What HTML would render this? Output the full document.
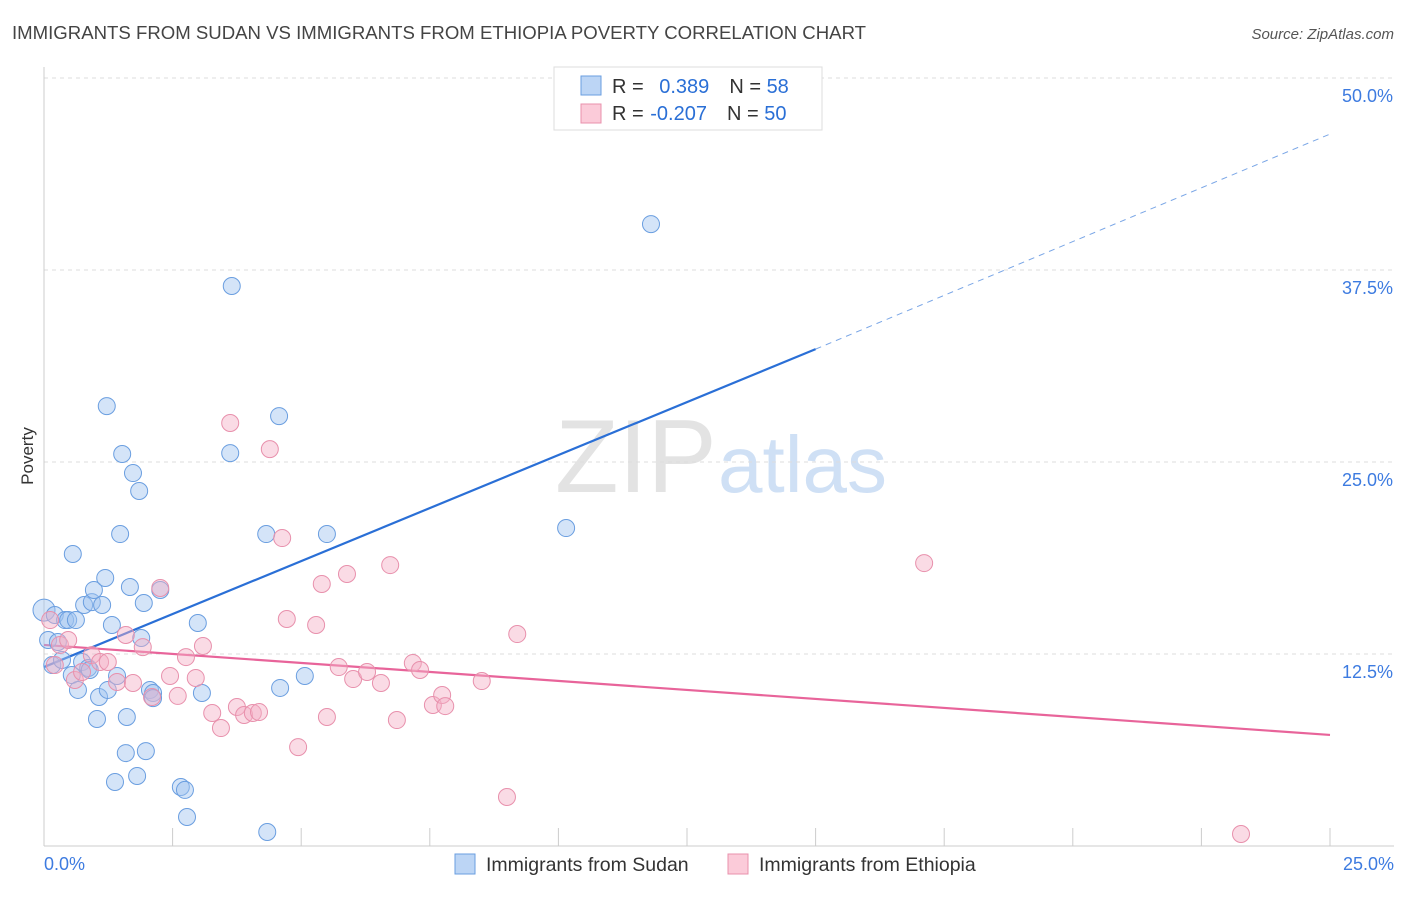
<!DOCTYPE html>
<html><head><meta charset="utf-8"><style>
body{margin:0;background:#fff;font-family:"Liberation Sans",sans-serif;}
svg text{font-family:"Liberation Sans",sans-serif;}
</style></head><body>
<svg id="chart" width="1406" height="892" viewBox="0 0 1406 892" xmlns="http://www.w3.org/2000/svg">
<text x="12" y="39" font-size="18.6" fill="#444">IMMIGRANTS FROM SUDAN VS IMMIGRANTS FROM ETHIOPIA POVERTY CORRELATION CHART</text>
<text x="1394" y="39" font-size="15" fill="#555" text-anchor="end" font-style="italic">Source: ZipAtlas.com</text>
<g>
<text x="555" y="492" font-size="104" fill="#e3e3e3" font-family="Liberation Serif">ZIP</text>
<text x="718" y="492" font-size="80" fill="#cfe0f5">atlas</text>
</g>
<g id="grid"></g>
<g id="axes"></g>
<text transform="translate(33,456) rotate(-90)" font-size="17" fill="#333" text-anchor="middle">Poverty</text>
<g id="lines"></g>
<g id="points"></g>
<g>
<rect x="554" y="67" width="268" height="63" fill="#fff" stroke="#ddd"/>
<rect x="581" y="76" width="20" height="19" fill="#bcd5f5" stroke="#6a9ee0"/>
<rect x="581" y="104" width="20" height="19" fill="#fbcbd9" stroke="#e890ac"/>
<text x="612" y="93" font-size="20" fill="#333">R = <tspan fill="#2a6fd6" dx="10">0.389</tspan><tspan fill="#333" dx="20">N = </tspan><tspan fill="#2a6fd6">58</tspan></text>
<text x="612" y="120" font-size="20" fill="#333">R = <tspan fill="#2a6fd6" dx="1">-0.207</tspan><tspan fill="#333" dx="20">N = </tspan><tspan fill="#2a6fd6">50</tspan></text>
</g>
<g>
<rect x="455" y="854" width="20" height="20" fill="#bcd5f5" stroke="#6a9ee0"/>
<text x="486" y="871" font-size="19.5" fill="#333">Immigrants from Sudan</text>
<rect x="728" y="854" width="20" height="20" fill="#fbcbd9" stroke="#e890ac"/>
<text x="759" y="871" font-size="19.5" fill="#333">Immigrants from Ethiopia</text>
</g>
</svg>
<script>
const yTicks=[12.5,25,37.5,50];
const yTickLabels=["12.5%","25.0%","37.5%","50.0%"];
const xTicks=[0,2.5,5,7.5,10,12.5,15,17.5,20,22.5,25];
const xTickLabels=["0.0%","25.0%"];
const sudanX=[0,.08,.16,.21,.27,.35,.41,.47,.54,.56,.62,.66,.74,.78,.86,.89,.93,.97,1.03,1.07,1.13,1.19,1.22,1.24,1.32,1.38,1.42,1.48,1.52,1.59,1.61,1.67,1.73,1.81,1.85,1.89,1.94,1.98,2.06,2.12,2.12,2.26,2.66,2.74,2.78,2.99,3.07,3.62,3.65,4.32,4.34,4.57,4.59,5.07,5.5,10.15,11.8];
const sudanY=[15.36,13.41,11.78,15.04,13.28,12.11,14.71,14.71,11.13,19.01,14.71,10.16,11.98,15.69,11.59,11.46,15.88,16.67,8.27,9.7,15.69,17.45,28.64,10.16,14.39,4.17,11.07,20.31,25.52,6.05,8.4,16.86,24.28,4.56,23.11,13.54,15.82,6.18,10.16,9.96,9.63,16.67,3.84,3.65,1.89,14.52,9.96,25.58,36.46,20.31,.91,27.99,10.29,11.07,20.31,20.7,40.49];
const ethX=[.12,.21,.31,.47,.6,.74,.93,1.09,1.24,1.42,1.59,1.73,1.92,2.1,2.26,2.45,2.6,2.76,2.95,3.09,3.27,3.44,3.62,3.75,3.89,4.06,4.18,4.39,4.63,4.72,4.94,5.29,5.4,5.5,5.89,5.73,6.01,6.28,6.55,6.73,6.86,7.17,7.31,7.56,7.74,7.8,8.51,9,9.2,17.11,23.27];
const ethY=[14.71,11.78,13.09,13.41,10.81,11.33,12.43,11.98,11.98,10.68,13.74,10.61,12.95,9.7,16.8,11.07,9.77,12.3,10.94,13.02,8.66,7.68,27.54,9.05,8.53,8.66,8.72,25.84,20.05,14.78,6.44,14.39,17.06,8.4,17.71,11.65,10.87,11.33,10.61,18.29,8.2,11.91,11.46,9.18,9.83,9.11,10.74,3.19,13.8,18.42,.78];
const sudanTrend=[11.65,32.35,46.35]; // at x=0, x=15, x=25
const ethTrend=[13.09,7.23]; // at x=0, x=25
const NS="http://www.w3.org/2000/svg";
const X=v=>44+v/25*1286, Y=v=>846-v/12.5*192;
function mk(tag,attrs,parent){const e=document.createElementNS(NS,tag);for(const k in attrs)e.setAttribute(k,attrs[k]);document.getElementById(parent).appendChild(e);return e;}
yTicks.forEach((t,i)=>{
 const g=mk('line',{x1:44,x2:1394,y1:Y(t),y2:Y(t),stroke:'#ddd','stroke-dasharray':'4,4'},'grid');
 
 
 const l=mk('text',{x:1393,y:Y(t)+24,'font-size':18,fill:'#3d7be0','text-anchor':'end'},'grid');
 
 
 l.textContent=yTickLabels[i];
});
const ax=mk('line',{x1:44,x2:1394,y1:846,y2:846,stroke:'#ccc'},'axes');


const ay=mk('line',{x1:44,x2:44,y1:67,y2:846,stroke:'#ccc'},'axes');


xTicks.forEach(t=>{
 const k=mk('line',{x1:X(t),x2:X(t),y1:828,y2:846,stroke:'#ccc'},'axes');
 
 
});
const xl0=mk('text',{x:44,y:870,'font-size':18,fill:'#3d7be0'},'axes');


xl0.textContent=xTickLabels[0];
const xl1=mk('text',{x:1394,y:870,'font-size':18,fill:'#3d7be0','text-anchor':'end'},'axes');


xl1.textContent=xTickLabels[1];
sudanX.forEach((v,i)=>{
 const c=mk('circle',{cx:X(v),cy:Y(sudanY[i]),r:i===0?11:8.5,fill:'rgba(160,196,240,0.45)',stroke:'#6a9ee0','stroke-width':1},'points');
 
 
});
ethX.forEach((v,i)=>{
 const c=mk('circle',{cx:X(v),cy:Y(ethY[i]),r:8.5,fill:'rgba(245,175,198,0.45)',stroke:'#e890ac','stroke-width':1},'points');
 
 
});
const t1=mk('line',{x1:X(0),y1:Y(sudanTrend[0]),x2:X(15),y2:Y(sudanTrend[1]),stroke:'#2a6fd6','stroke-width':2.2},'lines');


const t2=mk('line',{x1:X(15),y1:Y(sudanTrend[1]),x2:X(25),y2:Y(sudanTrend[2]),stroke:'#7aa6e6','stroke-width':1,'stroke-dasharray':'6,5'},'lines');


const t3=mk('line',{x1:X(0),y1:Y(ethTrend[0]),x2:X(25),y2:Y(ethTrend[1]),stroke:'#e8649a','stroke-width':2.2},'lines');


</script>
</body></html>
